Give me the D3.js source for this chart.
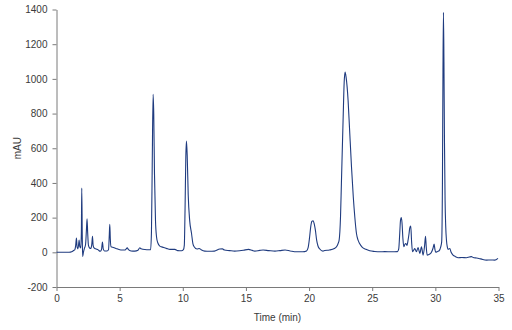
<!DOCTYPE html>
<html>
<head>
<meta charset="utf-8">
<script src="https://cdn.jsdelivr.net/npm/d3@7"></script>
<style>
  body { margin: 0; background: #fff; }
  text { font-family: "Liberation Sans", Arial, sans-serif; }
</style>
</head>
<body>
<div id="chart-area"></div>
<script>
// chromatogram readings (time in min, absorbance in mAU)
var time = [0, 0.5, 1.0, 1.2, 1.35, 1.45, 1.52, 1.58, 1.63, 1.7, 1.75, 1.79, 1.84, 1.92, 1.97, 2.0, 2.04, 2.07, 2.13, 2.2,
  2.3, 2.37, 2.42, 2.47, 2.53, 2.62, 2.72, 2.8, 2.85, 2.9, 2.97, 3.1, 3.3, 3.45, 3.56, 3.64, 3.7, 3.8, 4.0, 4.12,
  4.18, 4.22, 4.26, 4.32, 4.5, 4.8, 5.1, 5.4, 5.52, 5.6, 5.7, 5.9, 6.2, 6.45, 6.6, 6.7, 7.0, 7.3, 7.45, 7.52,
  7.58, 7.65, 7.7, 7.76, 7.84, 7.92, 8.02, 8.18, 8.4, 8.57, 8.8, 8.97, 9.37, 9.6, 9.9, 10.05, 10.12, 10.18, 10.24, 10.29,
  10.35, 10.43, 10.55, 10.69, 10.8, 10.9, 11.13, 11.3, 11.45, 11.74, 12.1, 12.5, 12.93, 13.14, 13.3, 13.7, 14.1, 14.5, 14.8, 15.2,
  15.5, 15.7, 16.1, 16.36, 16.8, 17.3, 17.7, 18.1, 18.5, 19.0, 19.5, 19.8, 19.92, 20.03, 20.13, 20.22, 20.32, 20.42, 20.5, 20.6,
  20.7, 20.85, 21.1, 21.24, 21.6, 22.0, 22.2, 22.3, 22.38, 22.49, 22.56, 22.7, 22.78, 22.85, 22.93, 23.09, 23.2, 23.36, 23.5, 23.62,
  23.75, 23.88, 24.0, 24.2, 24.5, 24.8, 25.2, 25.6, 26.0, 26.5, 27.0, 27.1, 27.18, 27.24, 27.3, 27.36, 27.43, 27.5, 27.58, 27.66,
  27.75, 27.84, 27.92, 27.97, 28.05, 28.12, 28.19, 28.28, 28.37, 28.5, 28.63, 28.77, 28.9, 29.03, 29.15, 29.22, 29.28, 29.35, 29.56, 29.69,
  29.82, 29.9, 29.97, 30.03, 30.18, 30.3, 30.42, 30.5, 30.56, 30.6, 30.64, 30.68, 30.72, 30.77, 30.82, 30.88, 30.95, 31.0, 31.14, 31.25,
  31.4, 31.6, 31.8, 32.1, 32.46, 32.7, 32.86, 33.0, 33.26, 33.6, 34.05, 34.4, 34.7, 34.96];

var mAU = [0, 0, 0, 3, 10, 15, 40, 82, 30, 20, 45, 70, 35, 25, 120, 370, 100, -25, 0, 20,
  45, 130, 193, 110, 40, 25, 22, 50, 93, 40, 25, 20, 14, 6, 15, 59, 20, 8, 8, 15,
  100, 162, 80, 32, 28, 20, 13, 13, 20, 26, 15, 8, 7, 12, 26, 20, 16, 15, 15, 120,
  500, 911, 800, 450, 180, 90, 55, 36, 30, 26, 20, 17, 17, 10, 9, 15, 40, 250, 550, 642,
  560, 330, 180, 110, 50, 32, 19, 22, 15, 7, 6, 7, 19, 20, 13, 10, 7, 9, 12, 17,
  11, 7, 11, 13, 10, 7, 10, 13, 8, 3, 3, 8, 25, 80, 147, 178, 182, 160, 128, 70,
  38, 19, 7, 10, 13, 22, 35, 51, 70, 205, 397, 780, 980, 1039, 1010, 876, 720, 492, 320, 205,
  110, 70, 51, 30, 17, 9, 5, 3, 4, 3, 4, 20, 110, 185, 201, 170, 80, 32, 45, 51,
  40, 70, 110, 140, 151, 60, 3, 12, 22, 3, 28, -6, 32, -16, 40, 93, 30, -16, -10, 0,
  25, 47, 15, 0, 5, 9, 30, 60, 400, 1000, 1384, 1100, 650, 300, 150, 70, 30, 17, 22, 0,
  -16, -25, -31, -30, -31, -27, -25, -30, -33, -38, -45, -44, -45, -35];

var xTicks = [0, 5, 10, 15, 20, 25, 30, 35];
var yTicks = [-200, 0, 200, 400, 600, 800, 1000, 1200, 1400];

var margin = { left: 56.5, right: 13.5, top: 9.5, bottom: 43 };
var width = 512 - margin.left - margin.right,
    height = 330 - margin.top - margin.bottom;

var data = time.map((t, i) => ({ t: t, v: mAU[i] }));

var canvas = d3.select("#chart-area")
    .append("svg")
    .attr("width", 512)
    .attr("height", 330);

var g = canvas.append("g")
    .attr("transform", "translate(" + margin.left + "," + margin.top + ")");

var xScale = d3.scaleLinear().domain([0, 35]).range([0, width]);
var yScale = d3.scaleLinear().domain([-200, 1400]).range([height, 0]);

// plain labels: no thousands comma, ascii minus
var plain = d => String(d);

// axes
var xAxis = g.append("g")
    .attr("transform", "translate(0," + height + ")")
    .call(d3.axisBottom(xScale).tickValues(xTicks).tickFormat(plain)
      .tickSize(4).tickSizeOuter(0).tickPadding(4));

var yAxis = g.append("g")
    .call(d3.axisLeft(yScale).tickValues(yTicks).tickFormat(plain)
      .tickSize(4).tickSizeOuter(0).tickPadding(5));

[xAxis, yAxis].forEach(a => {
  a.select(".domain").attr("stroke", "#7a7a7a");
  a.selectAll(".tick line").attr("stroke", "#7a7a7a");
  a.selectAll(".tick text")
    .attr("font-size", "10px")
    .attr("font-family", "Liberation Sans, Arial, sans-serif")
    .attr("fill", "#3a3a3a");
});

// axis labels
g.append("text")
    .attr("x", width / 2)
    .attr("y", height + 34)
    .attr("font-size", "10px")
    .attr("fill", "#3a3a3a")
    .attr("text-anchor", "middle")
    .text("Time (min)");

g.append("text")
    .attr("transform", "rotate(-90)")
    .attr("x", -height / 2)
    .attr("y", -36)
    .attr("font-size", "10px")
    .attr("fill", "#3a3a3a")
    .attr("text-anchor", "middle")
    .text("mAU");

// trace
var line = d3.line()
    .x(d => xScale(d.t))
    .y(d => yScale(d.v))
    .curve(d3.curveMonotoneX);

g.append("path")
    .datum(data)
    .attr("fill", "none")
    .attr("stroke", "#1f3b7f")
    .attr("stroke-width", 1.1)
    .attr("stroke-linejoin", "round")
    .attr("d", line);
</script>
</body>
</html>
